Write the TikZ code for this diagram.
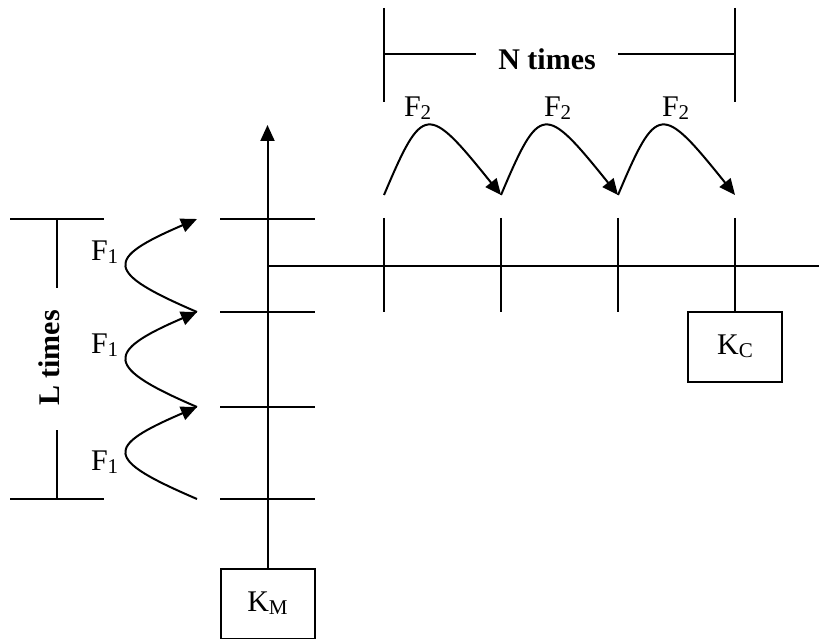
\documentclass[tikz,border=0pt]{standalone}
\usepackage{fontspec}
\setmainfont{Liberation Serif}
\usetikzlibrary{arrows.meta}
\newcommand{\lowsub}[1]{\raisebox{-3pt}{\fontsize{21}{21}\selectfont #1}}
\begin{document}
\begin{tikzpicture}[x=1pt,y=-1pt,
  line width=2pt,
  lbl/.style={font=\fontsize{30}{30}\selectfont, inner sep=0pt, anchor=base west},
  boldlbl/.style={font=\fontsize{30}{30}\selectfont\bfseries, inner sep=0pt, anchor=base},
  boxnode/.style={draw, minimum width=94pt, minimum height=70pt, inner sep=0pt,
    font=\fontsize{30}{30}\selectfont, text height=20pt, text depth=6pt},
  tip/.style={-{Triangle[length=16pt,width=14pt]}},
]
\useasboundingbox (0,0) rectangle (819,639);

% boxes
\node[boxnode] (km) at (267.5,604) {K\lowsub{M}};
\node[boxnode] (kc) at (735,347) {K\lowsub{C}};

% axes
\coordinate (vtop) at (267.5,125);
\coordinate (origin) at (267.5,266);
\coordinate (hend) at (819,266);
\draw[tip] (km.north) -- (vtop);
\draw (origin) -- (hend);

% ticks on vertical axis
\foreach \y/\n in {219/a,312/b,407/c,499/d}{
  \coordinate (vl\n) at (220,\y);
  \coordinate (vr\n) at (315,\y);
  \draw (vl\n) -- (vr\n);
}
% ticks on horizontal axis
\foreach \x/\n in {384/a,501/b,618/c}{
  \coordinate (ht\n) at (\x,218);
  \coordinate (hb\n) at (\x,312);
  \draw (ht\n) -- (hb\n);
}
\coordinate (htd) at (735,218);
\draw (htd) -- (kc.north);

% F1 curves
\foreach \s/\e/\n in {312/219/a,407/312/b,499/407/c}{
  \coordinate (fs\n) at (197,\s);
  \coordinate (fe\n) at (197,\e);
  \draw[tip] (fs\n) .. controls (104,\s-40) and (104,\e+40) .. (fe\n);
}
\node[lbl] (f1a) at (90,260) {F\lowsub{1}};
\node[lbl] (f1b) at (90,353) {F\lowsub{1}};
\node[lbl] (f1c) at (90,470) {F\lowsub{1}};

% F2 arcs
\foreach \x/\n in {384/a,501/b,618/c}{
  \coordinate (gs\n) at (\x,195);
  \coordinate (ge\n) at (\x+117,195);
  \draw[tip] (gs\n) .. controls (\x+39,103) and (\x+43,103) .. (ge\n);
}
\node[lbl] (f2a) at (403,117) {F\lowsub{2}};
\node[lbl] (f2b) at (543,117) {F\lowsub{2}};
\node[lbl] (f2c) at (661,117) {F\lowsub{2}};

% N times bracket
\node[boldlbl] (ntimes) at (547,70) {N times};
\coordinate (nl1) at (384,8);  \coordinate (nl2) at (384,102);
\coordinate (nr1) at (735,8);  \coordinate (nr2) at (735,102);
\draw (nl1) -- (nl2);
\draw (nr1) -- (nr2);
\coordinate (nh1) at (384,54); \coordinate (nh2) at (476,54);
\coordinate (nh3) at (618,54); \coordinate (nh4) at (735,54);
\draw (nh1) -- (nh2);
\draw (nh3) -- (nh4);

% L times bracket
\node[boldlbl, rotate=90] (ltimes) at (59,358) {L times};
\coordinate (lh1) at (10,219); \coordinate (lh2) at (104,219);
\coordinate (lh3) at (10,499); \coordinate (lh4) at (104,499);
\draw (lh1) -- (lh2);
\draw (lh3) -- (lh4);
\coordinate (lv1) at (57,219); \coordinate (lv2) at (57,288);
\coordinate (lv3) at (57,430); \coordinate (lv4) at (57,499);
\draw (lv1) -- (lv2);
\draw (lv3) -- (lv4);
\end{tikzpicture}
\end{document}
